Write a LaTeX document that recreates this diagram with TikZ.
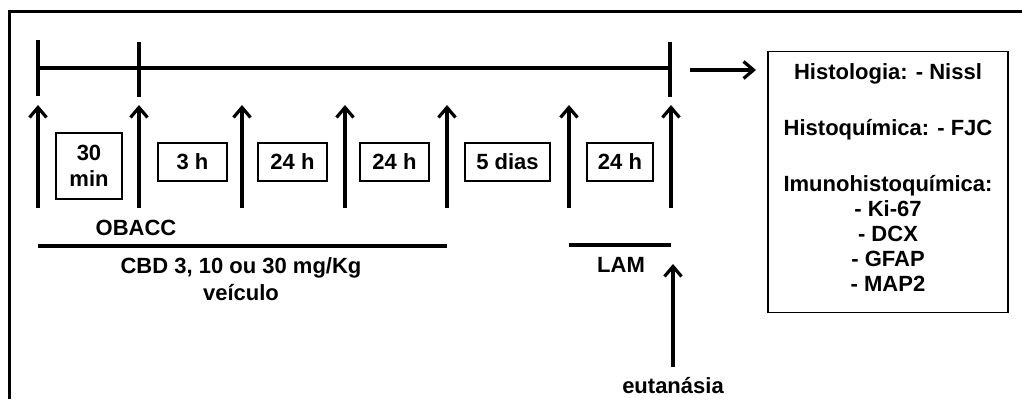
\documentclass[tikz,border=0pt]{standalone}
\usepackage{fontspec}
\setmainfont{Liberation Sans}
\usetikzlibrary{arrows.meta}
\tikzset{
  frame/.style={line width=3pt},
  timeline/.style={line width=4pt},
  tick/.style={line width=4pt},
  uparrow/.style={line width=3.2pt,-{Straight Barb[length=10pt,width=17pt,line width=3.2pt]}},
  period/.style={draw,line width=1.3pt,inner sep=0pt,font=\fontsize{22}{26}\selectfont\bfseries},
  label/.style={inner sep=0pt,font=\fontsize{22}{27}\selectfont\bfseries,align=center},
  bar/.style={line width=3.5pt},
}
\begin{document}
\begin{tikzpicture}[x=1pt,y=-1pt]
\useasboundingbox (0,0) rectangle (1022,399);
% outer frame (partially visible)
\coordinate (fbl) at (9,399);
\coordinate (ftl) at (9,11);
\coordinate (ftr) at (1022,11);
\draw[frame] (fbl) -- (ftl) -- (ftr);
% timeline
\coordinate (t1) at (38,68);
\coordinate (t2) at (139,68);
\coordinate (t3) at (670,68);
\draw[timeline] (t1) -- (t3);
\draw[tick] (38,40) -- (38,96);
\draw[tick] (139,42) -- (139,97);
\draw[tick] (670,42) -- (670,97);
% arrow to results
\coordinate (ra) at (690,70);
\coordinate (rb) at (756,70);
\draw[uparrow] (ra) -- (rb);
% up arrows
\foreach \i/\x in {1/38,2/139,3/242,4/345,5/447,6/569,7/671}{
  \coordinate (b\i) at (\x,208);
  \coordinate (u\i) at (\x,105);
  \draw[uparrow] (b\i) -- (u\i);
}
% period boxes
\node[period,minimum width=66pt,minimum height=66pt,align=center] (p1) at (89,166) {30\\min};
\node[period,minimum width=69pt,minimum height=38pt] (p2) at (192.5,162) {3 h};
\node[period,minimum width=69pt,minimum height=38pt] (p3) at (292.5,162) {24 h};
\node[period,minimum width=69pt,minimum height=38pt] (p4) at (394.5,162) {24 h};
\node[period,minimum width=85pt,minimum height=38pt] (p5) at (507.5,162) {5 dias};
\node[period,minimum width=66pt,minimum height=38pt] (p6) at (620,162) {24 h};
% labels
\node[label] (obacc) at (136,228) {OBACC};
\coordinate (c1) at (38,246);
\coordinate (c2) at (447,246);
\draw[bar] (c1) -- (c2);
\node[label] (cbd) at (241,279) {CBD 3, 10 ou 30 mg/Kg\\veículo};
\coordinate (l1) at (569,245);
\coordinate (l2) at (671,245);
\draw[bar] (l1) -- (l2);
\node[label] (lam) at (621,265) {LAM};
\coordinate (e1) at (673,367);
\coordinate (e2) at (673,264);
\draw[uparrow] (e1) -- (e2);
\node[label] (eut) at (673,386) {eutanásia};
% results box
\node[draw,line width=1.8pt,minimum width=240pt,minimum height=261pt,inner sep=0pt] (res) at (888,182) {};
\node[inner sep=0pt,align=center,font=\fontsize{22}{25}\selectfont\bfseries] (restext) at (888,178)
  {Histologia: - Nissl\\[31pt]
   Histoquímica: - FJC\\[31pt]
   Imunohistoquímica:\\
   - Ki-67\\
   - DCX\\
   - GFAP\\
   - MAP2};
\end{tikzpicture}
\end{document}
